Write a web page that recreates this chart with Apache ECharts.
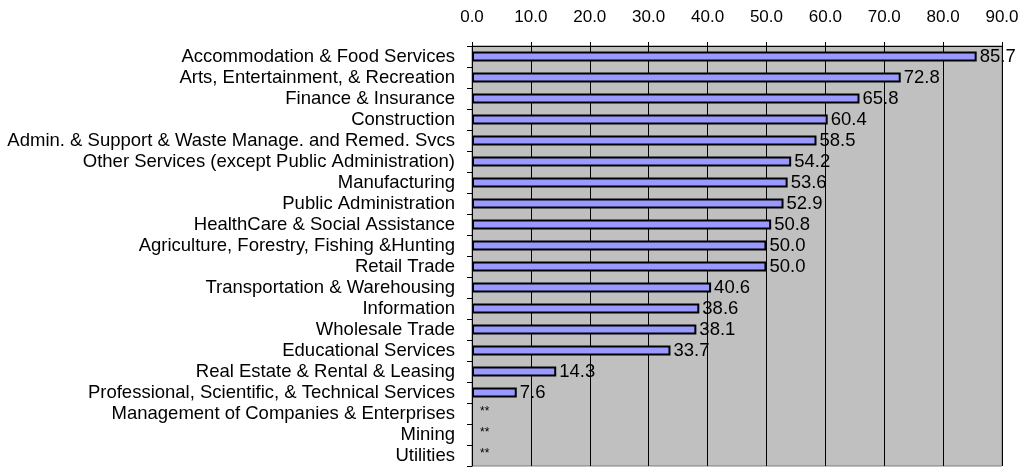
<!DOCTYPE html>
<html>
<head>
<meta charset="utf-8">
<script src="https://cdn.jsdelivr.net/npm/echarts@6/dist/echarts.min.js"></script>
<style>
  html, body { margin: 0; padding: 0; background: #fff; }
  #chart { width: 1026px; height: 469px; }
</style>
</head>
<body>
<div id="chart"></div>
<script>
// 行业类别
var categories = [
  'Accommodation & Food Services',
  'Arts, Entertainment, & Recreation',
  'Finance & Insurance',
  'Construction',
  'Admin. & Support & Waste Manage. and Remed. Svcs',
  'Other Services (except Public Administration)',
  'Manufacturing',
  'Public Administration',
  'HealthCare & Social Assistance',
  'Agriculture, Forestry, Fishing &Hunting',
  'Retail Trade',
  'Transportation & Warehousing',
  'Information',
  'Wholesale Trade',
  'Educational Services',
  'Real Estate & Rental & Leasing',
  'Professional, Scientific, & Technical Services',
  'Management of Companies & Enterprises',
  'Mining',
  'Utilities'
];
// 数值 (null = 数据不可用, 显示 **)
var values = [85.7, 72.8, 65.8, 60.4, 58.5, 54.2, 53.6, 52.9, 50.8, 50.0, 50.0,
  40.6, 38.6, 38.1, 33.7, 14.3, 7.6, null, null, null];
var xTicks = { min: 0, max: 90, interval: 10 };

var font = 'Liberation Sans, Arial, sans-serif';

var barData = [];
for (var i = 0; i < values.length; i++) {
  if (values[i] === null) {
    barData.push({
      value: 0,
      itemStyle: { borderWidth: 0, color: 'transparent' },
      label: { formatter: '**', fontSize: 12, distance: 8, offset: [0, -2] }
    });
  } else {
    barData.push(values[i]);
  }
}

var myChart = echarts.init(document.getElementById('chart'));
myChart.setOption({
  animation: false,
  backgroundColor: '#fff',
  grid: {
    left: 472,
    right: 24,
    top: 46,
    bottom: 3,
    show: true,
    backgroundColor: '#c0c0c0',
    borderColor: '#808080',
    borderWidth: 1
  },
  xAxis: {
    type: 'value',
    position: 'top',
    min: xTicks.min,
    max: xTicks.max,
    interval: xTicks.interval,
    axisLine: { show: true, lineStyle: { color: '#000', width: 1 } },
    axisTick: { show: true, length: 4, lineStyle: { color: '#000' } },
    splitLine: { show: true, lineStyle: { color: '#000', width: 1 } },
    axisLabel: {
      color: '#000',
      fontFamily: font,
      fontSize: 17,
      margin: 20,
      formatter: function(v) { return v.toFixed(1); }
    }
  },
  yAxis: {
    type: 'category',
    inverse: true,
    data: categories,
    axisLine: { show: true, lineStyle: { color: '#000', width: 1 } },
    axisTick: { show: true, length: 5, lineStyle: { color: '#000' } },
    axisLabel: {
      color: '#000',
      fontFamily: font,
      fontSize: 18.5,
      margin: 17,
      interval: 0
    }
  },
  series: [{
    type: 'bar',
    data: barData,
    barWidth: 10,
    itemStyle: {
      color: '#9999ff',
      borderColor: '#000',
      borderWidth: 2
    },
    label: {
      show: true,
      position: 'right',
      distance: 3,
      color: '#000',
      fontFamily: font,
      fontSize: 18.5,
      formatter: function(p) { return p.value.toFixed(1); }
    }
  }]
});
</script>
</body>
</html>
